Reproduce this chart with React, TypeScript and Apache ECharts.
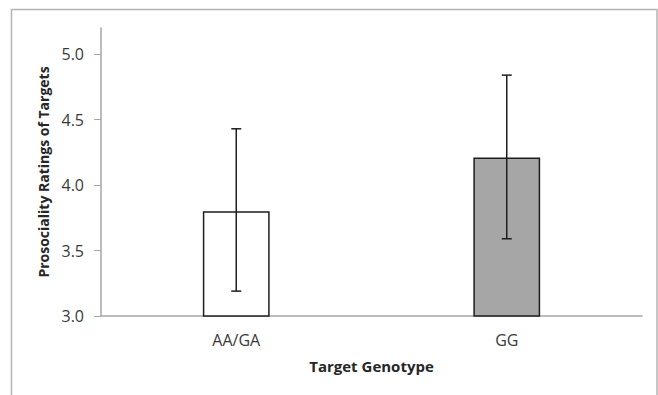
import React, { useEffect, useRef } from "react";
import * as echarts from "echarts";

const categories = ["AA/GA", "GG"];
const means = [3.8, 4.21];
const errLow = [3.19, 3.59];
const errHigh = [4.43, 4.84];
const barColors = ["#ffffff", "#a6a6a6"];
const yTicks = { min: 3, max: 5.2, interval: 0.5 };

export default function App() {
  const ref = useRef<HTMLDivElement>(null);
  useEffect(() => {
    if (!ref.current) return;
    const chart = echarts.init(ref.current, null, { renderer: "svg" });
    const font = "'Open Sans', sans-serif";
    chart.setOption({
      animation: false,
      backgroundColor: "#ffffff",
      graphic: [
        {
          type: "rect",
          shape: { x: 11.5, y: 9.5, width: 645.5, height: 420 },
          style: { fill: "none", stroke: "#b4b4b4", lineWidth: 1.5 },
          silent: true,
        },
      ],
      grid: { left: 101, right: 16, top: 28, bottom: 79 },
      xAxis: {
        type: "category",
        data: categories,
        name: "Target Genotype",
        nameLocation: "middle",
        nameGap: 42,
        nameTextStyle: { fontFamily: font, fontSize: 15, fontWeight: "bold", color: "#262626" },
        axisLine: { lineStyle: { color: "#a6a6a6", width: 1.5 } },
        axisTick: { show: false },
        axisLabel: { fontFamily: font, fontSize: 16, color: "#3a3a3a", margin: 16 },
      },
      yAxis: {
        type: "value",
        min: yTicks.min,
        max: yTicks.max,
        interval: yTicks.interval,
        name: "Prosociality Ratings of Targets",
        nameLocation: "middle",
        nameGap: 47,
        nameTextStyle: { fontFamily: font, fontSize: 14, fontWeight: "bold", color: "#262626" },
        axisLine: { show: true, lineStyle: { color: "#a6a6a6", width: 1.5 } },
        axisTick: { show: true, inside: false, length: 7, lineStyle: { color: "#a6a6a6" } },
        splitLine: { show: false },
        axisLabel: {
          fontFamily: font,
          fontSize: 16,
          color: "#3a3a3a",
          margin: 17,
          showMaxLabel: false,
          formatter: (v: number) => v.toFixed(1),
        },
      },
      series: [
        {
          type: "bar",
          barWidth: "24.7%",
          data: means.map((v, i) => ({
            value: v,
            itemStyle: { color: barColors[i], borderColor: "#1e1e1e", borderWidth: 1.5 },
          })),
        },
        {
          type: "custom",
          data: categories.map((_, i) => [i, errLow[i], errHigh[i]]),
          renderItem: (params: any, api: any) => {
            const x = api.value(0);
            const lo = api.coord([x, api.value(1)]);
            const hi = api.coord([x, api.value(2)]);
            const cap = 5;
            const style = { stroke: "#1e1e1e", lineWidth: 1.5 };
            return {
              type: "group",
              children: [
                { type: "line", shape: { x1: hi[0], y1: hi[1], x2: lo[0], y2: lo[1] }, style },
                { type: "line", shape: { x1: hi[0] - cap, y1: hi[1], x2: hi[0] + cap, y2: hi[1] }, style },
                { type: "line", shape: { x1: lo[0] - cap, y1: lo[1], x2: lo[0] + cap, y2: lo[1] }, style },
              ],
            };
          },
          z: 10,
        },
      ],
    });
    return () => chart.dispose();
  }, []);
  return (
    <div
      ref={ref}
      style={{ position: "fixed", left: 0, top: 0, width: 658, height: 395 }}
    />
  );
}
